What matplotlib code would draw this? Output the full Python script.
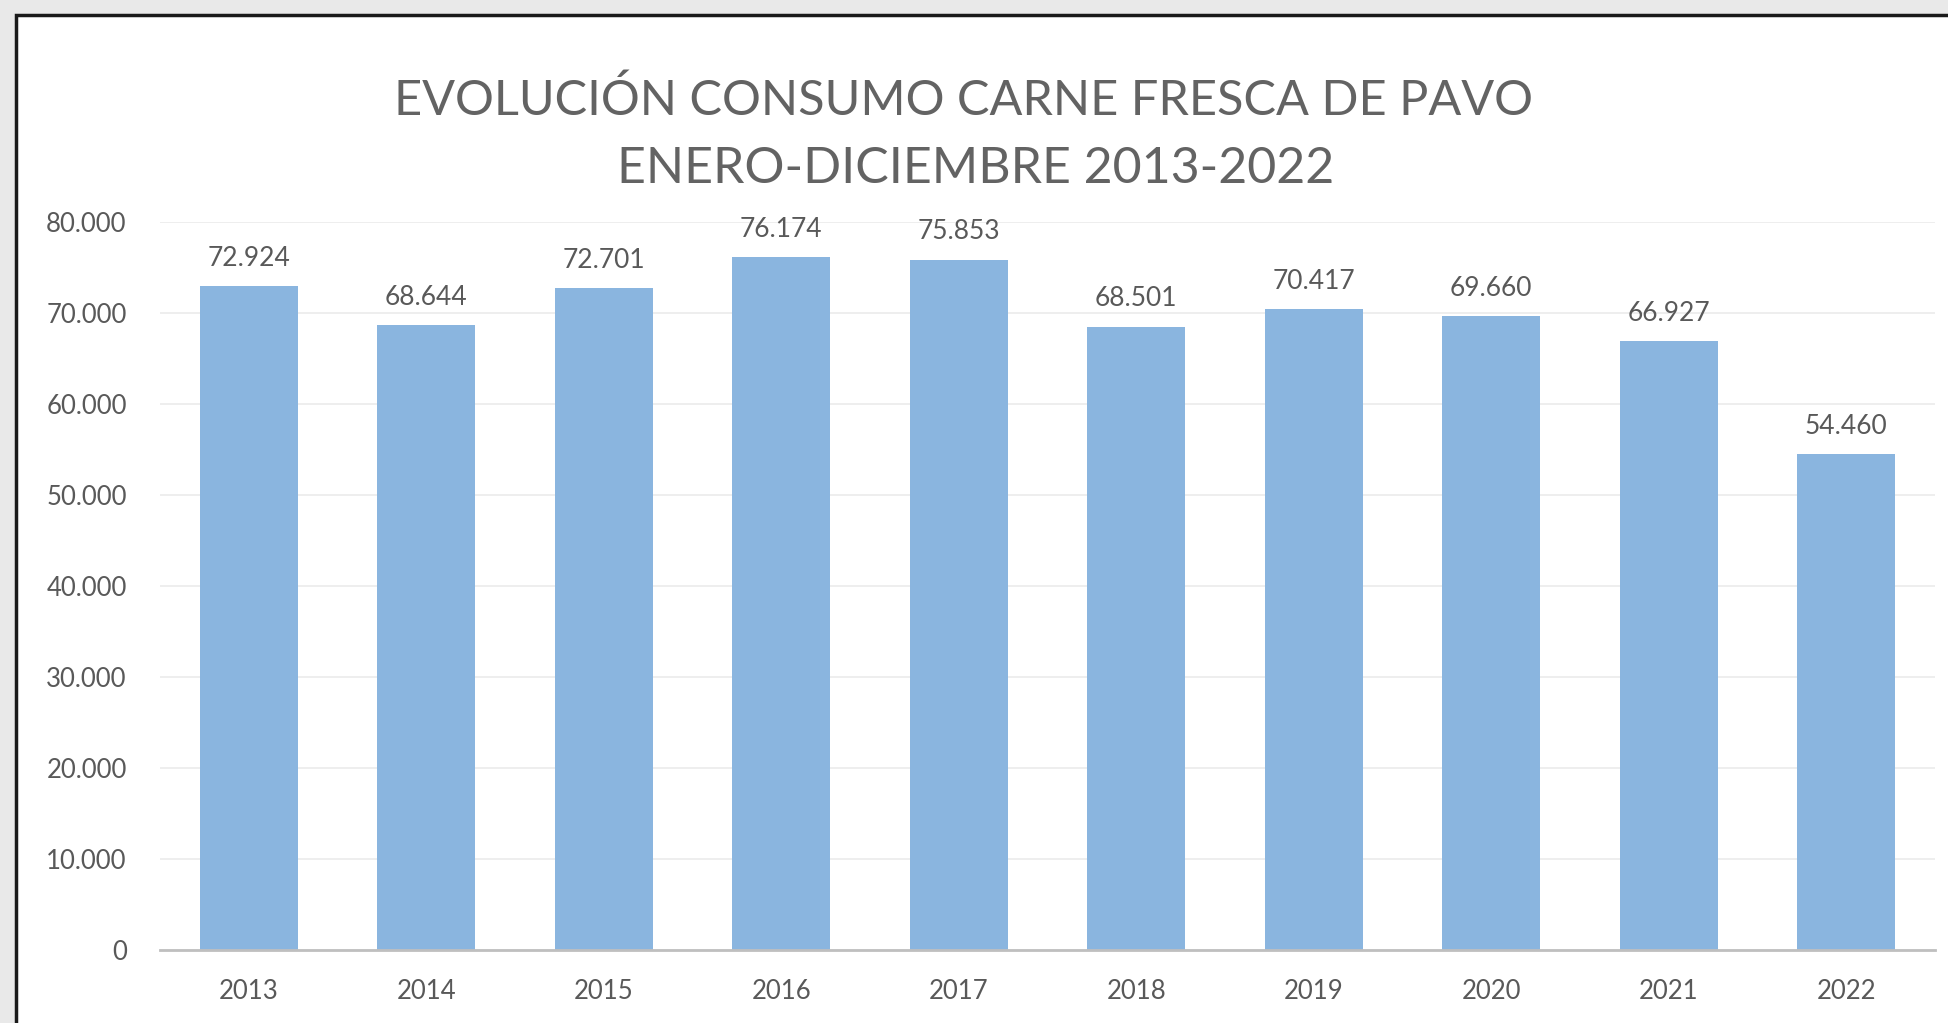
import matplotlib
matplotlib.use('Agg')
import matplotlib.pyplot as plt
from matplotlib.patches import Rectangle
from matplotlib.ticker import FuncFormatter

years = ['2013', '2014', '2015', '2016', '2017', '2018', '2019', '2020', '2021', '2022']
consumo = [72924, 68644, 72701, 76174, 75853, 68501, 70417, 69660, 66927, 54460]
title_lines = ['EVOLUCIÓN CONSUMO CARNE FRESCA DE PAVO', 'ENERO-DICIEMBRE 2013-2022']


def miles(v, pos=None):
    # thousands separator with a dot, Spanish style
    return f'{int(round(v)):,}'.replace(',', '.')


plt.rcParams['font.family'] = ['Lato', 'DejaVu Sans']
text_grey = '#595959'

fig = plt.figure(figsize=(19.48, 10.23), dpi=100)
fig.patch.set_facecolor('#e9e9e9')

# white chart card with black frame
W, H = 1948, 1023
card = Rectangle((16 / W, -0.05), 1.1, 1 - 15 / H + 0.05, transform=fig.transFigure,
                 facecolor='white', edgecolor='#1a1a1a', linewidth=2.5, zorder=-5)
fig.patches.append(card)

ax = fig.add_axes([160 / W, 1 - 950 / H, 1775 / W, 728 / H])
ax.set_facecolor('none')

x = range(len(years))
bars = ax.bar(x, consumo, width=0.55, color='#8AB5DF', zorder=2)

for xi, v in zip(x, consumo):
    ax.annotate(miles(v), (xi, v), xytext=(0, 11), textcoords='offset points',
                ha='center', va='bottom', fontsize=19, color=text_grey)

ax.set_xlim(-0.5, len(years) - 0.5)
ax.set_ylim(0, 80000)
ax.set_yticks(range(0, 80001, 10000))
ax.yaxis.set_major_formatter(FuncFormatter(miles))
ax.set_xticks(list(x))
ax.set_xticklabels(years)
ax.grid(axis='y', color='#ebebeb', linewidth=1.2, zorder=0)
ax.set_axisbelow(True)

for side in ['top', 'right', 'left']:
    ax.spines[side].set_visible(False)
ax.spines['bottom'].set_color('#bfbfbf')
ax.spines['bottom'].set_linewidth(2)

ax.tick_params(axis='y', length=0, pad=24, labelsize=18.5, labelcolor=text_grey)
ax.tick_params(axis='x', length=0, pad=21, labelsize=18.5, labelcolor=text_grey)

fig.text(963 / W, 1 - 100 / H, title_lines[0], ha='center', va='center',
         fontsize=35, fontweight='normal', color='#636363')
fig.text(976 / W, 1 - 169 / H, title_lines[1], ha='center', va='center',
         fontsize=36, fontweight='normal', color='#636363')

fig.savefig('out.png', dpi=100, facecolor=fig.get_facecolor())
